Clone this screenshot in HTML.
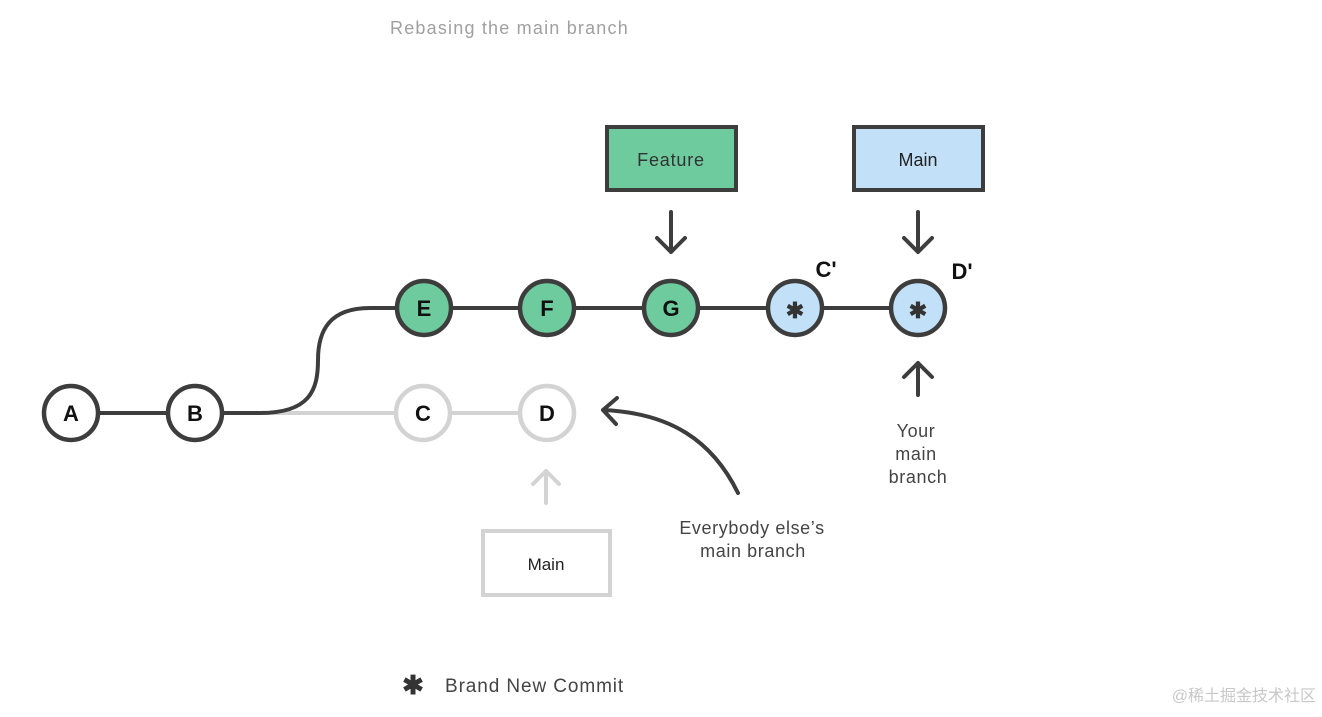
<!DOCTYPE html>
<html><head><meta charset="utf-8"><style>
body{margin:0;background:#fff;width:1322px;height:712px;overflow:hidden}
text{font-family:"Liberation Sans","Noto Sans CJK SC",sans-serif}
</style></head><body>
<svg width="1322" height="712" viewBox="0 0 1322 712">
<text x="390" y="34" font-size="18" fill="#a0a0a0" letter-spacing="1.2">Rebasing the main branch</text>
<line x1="225" y1="413" x2="400" y2="413" stroke="#d3d3d3" stroke-width="4"/>
<line x1="448" y1="413" x2="522" y2="413" stroke="#d3d3d3" stroke-width="4"/>
<line x1="97" y1="413" x2="170" y2="413" stroke="#3d3d3d" stroke-width="4"/>
<path d="M220 413 L260 413 C310 413 318 390 318 360 C318 330 330 308 370 308 L400 308" fill="none" stroke="#3d3d3d" stroke-width="4"/>
<line x1="448" y1="308" x2="895" y2="308" stroke="#3d3d3d" stroke-width="4"/>
<g stroke-width="4.5">
<circle cx="71" cy="413" r="27" fill="#fff" stroke="#3d3d3d"/>
<circle cx="195" cy="413" r="27" fill="#fff" stroke="#3d3d3d"/>
<circle cx="423" cy="413" r="27" fill="#fff" stroke="#d3d3d3"/>
<circle cx="547" cy="413" r="27" fill="#fff" stroke="#d3d3d3"/>
<circle cx="424" cy="308" r="27" fill="#6dcb9e" stroke="#3d3d3d"/>
<circle cx="547" cy="308" r="27" fill="#6dcb9e" stroke="#3d3d3d"/>
<circle cx="671" cy="308" r="27" fill="#6dcb9e" stroke="#3d3d3d"/>
<circle cx="795" cy="308" r="27" fill="#c2e1f9" stroke="#3d3d3d"/>
<circle cx="918" cy="308" r="27" fill="#c2e1f9" stroke="#3d3d3d"/>
</g>
<g font-size="22" font-weight="bold" text-anchor="middle" fill="#111">
<text x="71" y="421">A</text><text x="195" y="421">B</text>
<text x="423" y="421">C</text><text x="547" y="421">D</text>
<text x="424" y="316">E</text><text x="547" y="316">F</text><text x="671" y="316">G</text>
<text x="826" y="277">C'</text><text x="962" y="279">D'</text>
</g>
<g font-size="22" font-weight="bold" text-anchor="middle" fill="#333">
<text x="795" y="318">✱</text><text x="918" y="318">✱</text>
</g>
<rect x="607" y="127" width="129" height="63" fill="#6dcb9e" stroke="#3d3d3d" stroke-width="4"/>
<text x="671" y="166" font-size="18" text-anchor="middle" fill="#333" letter-spacing="0.8">Feature</text>
<rect x="854" y="127" width="129" height="63" fill="#c2e1f9" stroke="#3d3d3d" stroke-width="4"/>
<text x="918" y="166" font-size="18" text-anchor="middle" fill="#222">Main</text>
<rect x="483" y="531" width="127" height="64" fill="#fff" stroke="#d3d3d3" stroke-width="4"/>
<text x="546" y="570" font-size="17" text-anchor="middle" fill="#222">Main</text>
<g fill="none" stroke="#3d3d3d" stroke-width="4" stroke-linecap="round" stroke-linejoin="round">
<path d="M671 212 V252 M657 238 L671 252 L685 238"/>
<path d="M918 212 V252 M904 238 L918 252 L932 238"/>
<path d="M918 395 V363 M904 377 L918 363 L932 377"/>
<path d="M738 493 C712 440 670 413 603 410 M617 398 L603 410 L616 424"/>
</g>
<path d="M546 503 V471 M533 484 L546 471 L559 484" fill="none" stroke="#d3d3d3" stroke-width="4" stroke-linecap="round" stroke-linejoin="round"/>
<g font-size="18" fill="#444" text-anchor="middle" letter-spacing="0.6">
<text x="916" y="437">Your</text><text x="916" y="460">main</text><text x="918" y="483">branch</text>
<text x="752" y="534">Everybody else’s</text><text x="753" y="557">main branch</text>
</g>
<text x="413" y="694" font-size="26" font-weight="bold" text-anchor="middle" fill="#333">✱</text>
<text x="445" y="692" font-size="19" fill="#444" letter-spacing="0.9">Brand New Commit</text>
<text x="1316" y="701" font-size="16" text-anchor="end" fill="#c8c8c8">@稀土掘金技术社区</text>
</svg>
</body></html>
